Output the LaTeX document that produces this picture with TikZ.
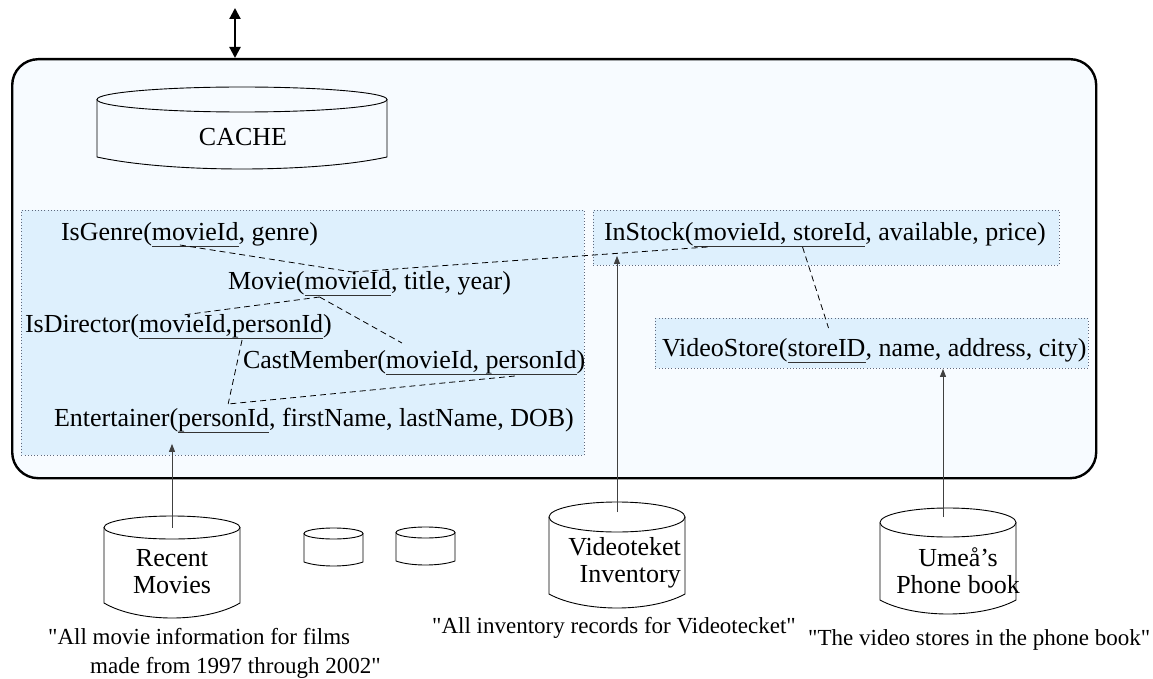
\documentclass[tikz,border=0pt]{standalone}
\usepackage{fontspec}
\setmainfont{Liberation Serif}[Ligatures=TeXOff]
\usetikzlibrary{arrows.meta,calc}

\definecolor{framefill}{RGB}{247,251,255}
\definecolor{schemafill}{RGB}{222,240,253}
\definecolor{dotline}{RGB}{95,105,125}

\newcommand\schemafont{\fontsize{26}{28}\selectfont}
\newcommand\dbfont{\fontsize{26}{27}\selectfont}
\newcommand\notefont{\fontsize{23}{29}\selectfont}

% database drum: name, centre x, top-ellipse centre y, x radius, y radius,
% y where the sides end, sag of the bottom curve
\newcommand\drum[7]{%
  \coordinate (#1) at (#2,#3);
  \draw[drumline] (#1) ellipse [x radius=#4pt, y radius=#5pt];
  \draw[drumline] ({#2-#4},#3) -- ({#2-#4},#6)
    .. controls ({#2-#4/2},{#6+#7*4/3}) and ({#2+#4/2},{#6+#7*4/3}) .. ({#2+#4},#6)
    -- ({#2+#4},#3);
}

\begin{document}
\begin{tikzpicture}[x=1pt,y=-1pt,
  outerframe/.style={draw, line width=2.4pt, fill=framefill, rounded corners=26pt,
    inner sep=0pt, anchor=north west},
  schemabox/.style={draw=dotline, fill=schemafill, line width=0.9pt,
    dash pattern=on 0.9pt off 2.3pt, inner sep=0pt, anchor=north west},
  part/.style={inner sep=0pt, outer sep=0pt, anchor=base west, font=\schemafont},
  uline/.style={line width=1.3pt, black!80},
  link/.style={line width=0.8pt, dash pattern=on 6pt off 4pt},
  feed/.style={line width=0.9pt, black!75, -{Triangle[length=8pt,width=6pt]}},
  iolink/.style={line width=2.2pt,
    {Triangle[length=11pt,width=11pt]}-{Triangle[length=11pt,width=11pt]}},
  drumline/.style={line width=0.9pt},
  dblabel/.style={font=\dbfont, inner sep=0pt, align=center},
  note/.style={font=\notefont, inner sep=0pt, anchor=base west}]

\useasboundingbox (0,0) rectangle (1153,679);

% mediator frame and schema groups
\node[outerframe, minimum width=1084pt, minimum height=419pt] (frame) at (11,58) {};
\node[schemabox, minimum width=563pt, minimum height=245pt] (moviedb) at (21,210) {};
\node[schemabox, minimum width=466pt, minimum height=55pt] (instock) at (593,210) {};
\node[schemabox, minimum width=433pt, minimum height=50pt] (vstore) at (655,318) {};

% link to the outside
\coordinate (ioport) at (235,8);
\draw[iolink] (ioport) -- (ioport |- frame.north);

% cache
\drum{cache}{242}{99.5}{145}{12.5}{157}{12}
\node[dblabel] (cachetxt) at (243,137) {CACHE};

% relations
\node[part] (igA) at (61,240) {IsGenre(};
\node[part] (igk) at (igA.base east) {movieId};
\node[part] (igB) at (igk.base east) {, genre)};

\node[part] (mA) at (228,289) {Movie(};
\node[part] (mk) at (mA.base east) {movieId};
\node[part] (mB) at (mk.base east) {, title, year)};

\node[part] (idA) at (25,332) {IsDirector(};
\node[part] (idk) at (idA.base east) {movieId,personId};
\node[part] (idB) at (idk.base east) {)};

\node[part] (cmA) at (243,368) {CastMember(};
\node[part] (cmk) at (cmA.base east) {movieId, personId};
\node[part] (cmB) at (cmk.base east) {)};

\node[part] (eA) at (54,426) {Entertainer(};
\node[part] (ek) at (eA.base east) {personId};
\node[part] (eB) at (ek.base east) {, firstName, lastName, DOB)};

\node[part] (isA) at (604,240) {InStock(};
\node[part] (isk) at (isA.base east) {movieId, storeId};
\node[part] (isB) at (isk.base east) {, available, price)};

\node[part] (vsA) at (662,356) {VideoStore(};
\node[part] (vsk) at (vsA.base east) {storeID};
\node[part] (vsB) at (vsk.base east) {, name, address, city)};

% key underlines
\foreach \k in {igk,mk,idk,cmk,ek,isk,vsk}
  \draw[uline] ([yshift=-6.5pt]\k.base west) -- ([yshift=-6.5pt]\k.base east);

% joins between relations
\coordinate (mtop) at ([shift={(48pt,17pt)}]mk.base west);
\coordinate (mfoot) at ([shift={(15pt,-8pt)}]mk.base west);
\coordinate (etop) at ([shift={(50pt,22pt)}]ek.base west);
\draw[link] ([shift={(28pt,-5pt)}]igk.base west) -- (mtop);
\draw[link] (mtop) -- ([shift={(14pt,-7pt)}]isk.base west);
\draw[link] (mfoot) -- ([shift={(44pt,17pt)}]idk.base west);
\draw[link] (mfoot) -- ([shift={(16pt,25pt)}]cmk.base west);
\draw[link] ([shift={(103pt,-8pt)}]idk.base west) -- (etop);
\draw[link] ([shift={(129pt,-8pt)}]cmk.base west) -- (etop);
\draw[link] ([shift={(109pt,-7pt)}]isk.base west) -- ([shift={(41pt,28pt)}]vsk.base west);

% sources
\drum{rm}{172}{527.5}{68}{11.5}{603}{15}
\drum{sa}{333.5}{533.5}{29.5}{5.5}{562}{4}
\drum{sb}{425.5}{532.5}{29.5}{5.5}{561}{4}
\drum{vt}{617}{517}{68}{15}{594}{14}
\drum{pb}{948}{522.5}{68}{14.5}{600}{14}

\node[dblabel] (rmtxt) at (172,572) {Recent\\Movies};
\node[dblabel, align=right, anchor=east] (vttxt) at (681,563) {Videoteket\\Inventory};
\node[dblabel] (pbtxt) at (958,571) {Umeå’s\\Phone book};

% source feeds
\draw[feed] (rm) -- ($(rm |- moviedb.south)+(0,-12)$);
\draw[feed] ([yshift=5pt]vt) -- ($(vt |- instock.south)+(0,-10)$);
\coordinate (pbport) at (943,517);
\draw[feed] (pbport) -- (pbport |- vstore.south);

% source descriptions
\node[note] (n1a) at (48,644) {"All movie information for films};
\node[note] (n1b) at (90,673) {made from 1997 through 2002"};
\node[note] (n2) at (432,633) {"All inventory records for Videotecket"};
\node[note] (n3) at (808,645) {"The video stores in the phone book"};
\end{tikzpicture}
\end{document}
